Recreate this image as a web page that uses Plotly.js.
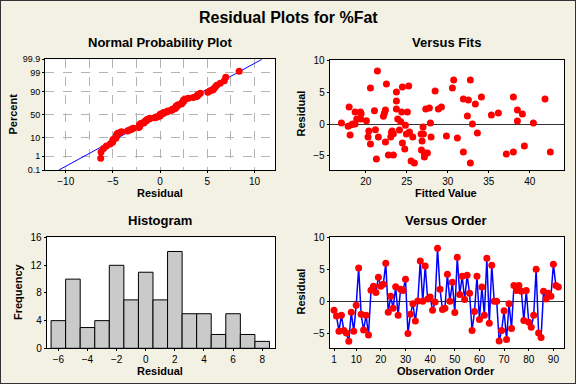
<!DOCTYPE html>
<html>
<head>
<meta charset="utf-8">
<script src="https://cdn.plot.ly/plotly-3.0.1.min.js"></script>
<style>html,body{margin:0;padding:0;background:#f3f0e4;}#chart{width:576px;height:384px;}</style>
</head>
<body>
<div id="chart"></div>
<script>
// Residuals in observation order (read from "Versus Order")
const residuals = [-1.42,-2.3,-4.7,-2.2,-4.6,-5.0,-6.3,-1.7,-4.7,-0.6,
5.26,-2.05,-4.5,-2.2,-5.3,1.74,2.4,1.4,3.8,2.4,
2.7,6.0,-1.7,0.8,-1.1,2.3,-2.2,1.9,1.7,3.5,
-5.05,-2.05,-0.37,-3.1,0.05,6.37,0.0,5.58,0.37,0.7,
-1.42,-0.1,8.37,1.9,-1.3,-1.1,4.26,0.0,3.0,-1.74,
6.95,1.1,3.95,0.3,4.1,1.26,-4.6,-1.58,3.95,-2.84,
2.26,-2.2,6.8,-3.47,5.7,0.0,0.0,-6.26,-4.58,-1.47,
-6.0,-0.37,-4.26,2.5,1.7,2.5,1.58,-3.0,1.7,-3.3,
-4.1,-2.2,5.05,-5.0,-5.7,1.58,0.37,1.26,0.79,5.84,
2.5,2.26];

// Versus Fits
const fittedValues = [17.03,17.85,18.25,17.97,18.09,18.70,18.70,18.90,19.35,19.43,
19.39,20.08,20.37,20.28,20.57,20.57,21.06,21.18,21.30,21.42,
21.54,22.15,22.28,22.40,22.40,22.52,22.76,23.05,23.13,23.21,
23.37,23.37,23.74,23.74,23.74,23.90,24.11,24.27,24.39,24.47,
24.47,24.76,24.84,24.96,25.08,25.24,25.33,25.73,25.53,25.93,
26.75,27.03,26.99,26.87,26.79,27.15,27.15,27.52,27.32,27.76,
27.89,27.97,28.46,28.86,29.23,29.84,30.57,30.73,31.18,31.91,
31.91,32.40,32.52,32.76,32.76,33.01,33.37,33.62,34.11,35.33,
36.18,37.15,38.01,38.01,38.50,38.50,39.11,39.35,40.45,41.87,
42.52,18.41];
const fitResiduals = [0.16,-0.37,-0.1,2.68,-1.74,1.89,0.0,0.79,1.89,1.63,
0.79,0.53,-1.11,-2.05,-3.16,5.68,2.11,-0.89,-5.53,8.37,
-2.05,1.21,1.74,2.21,-2.84,6.32,-4.89,-2.05,-1.32,-1.11,
-4.89,-1.53,5.05,3.63,2.37,0.79,-0.95,0.37,1.89,-3.0,
5.84,-3.95,-0.21,-1.58,1.89,6.0,-1.26,-2.05,-5.84,-6.16,
-1.58,-1.58,-0.47,-2.68,-4.11,-4.58,-5.21,-4.58,2.37,2.53,
0.16,-2.05,5.21,2.37,2.68,-1.89,5.68,6.95,-2.21,3.95,
-4.42,1.26,3.79,6.95,-6.16,0.0,3.16,-1.42,4.26,1.42,
1.74,-4.74,4.26,-4.42,2.21,0.47,1.58,-3.47,0.16,3.95,
-4.42,0.0];

// Histogram
const binCenters = [-6,-5,-4,-3,-2,-1,0,1,2,3,4,5,6,7,8];
const binCounts  = [4,10,3,4,12,7,11,7,14,5,5,2,5,2,1];

// Probability axis labels
const probTicks = [0.1,1,10,50,90,99,99.9];
const probTickText = ['0.1','1','10','50','90','99','99.9'];
const orderTicks = [1,10,20,30,40,50,60,70,80,90];

// inverse normal CDF (Acklam)
function invNorm(p){
  const a=[-3.969683028665376e+01,2.209460984245205e+02,-2.759285104469687e+02,1.383577518672690e+02,-3.066479806614716e+01,2.506628277459239e+00];
  const b=[-5.447609879822406e+01,1.615858368580409e+02,-1.556989798598866e+02,6.680131188771972e+01,-1.328068155288572e+01];
  const c=[-7.784894002430293e-03,-3.223964580411365e-01,-2.400758277161838e+00,-2.549732539343734e+00,4.374664141464968e+00,2.938163982698783e+00];
  const d=[7.784695709041462e-03,3.224671290700398e-01,2.445134137142996e+00,3.754408661907416e+00];
  const pl=0.02425, ph=1-pl; let q,r;
  if(p<pl){q=Math.sqrt(-2*Math.log(p));return (((((c[0]*q+c[1])*q+c[2])*q+c[3])*q+c[4])*q+c[5])/((((d[0]*q+d[1])*q+d[2])*q+d[3])*q+1);}
  if(p<=ph){q=p-0.5;r=q*q;return (((((a[0]*r+a[1])*r+a[2])*r+a[3])*r+a[4])*r+a[5])*q/(((((b[0]*r+b[1])*r+b[2])*r+b[3])*r+b[4])*r+1);}
  q=Math.sqrt(-2*Math.log(1-p));return -(((((c[0]*q+c[1])*q+c[2])*q+c[3])*q+c[4])*q+c[5])/((((d[0]*q+d[1])*q+d[2])*q+d[3])*q+1);
}

const n = residuals.length;
const sorted = residuals.slice().sort((a,b)=>a-b);
const zScores = sorted.map((v,i)=>invNorm((i+1-0.3)/(n+0.4)));
const mean = residuals.reduce((s,v)=>s+v,0)/n;
const sd = Math.sqrt(residuals.reduce((s,v)=>s+(v-mean)*(v-mean),0)/(n-1));
const zLo = invNorm(0.001), zHi = invNorm(0.999);
const obsIndex = residuals.map((v,i)=>i+1);

const RED = '#ff0000', BLUE = '#0000ff';
const FAM = 'Liberation Sans, Arial, sans-serif';
const tickFont = {family:FAM, size:10, color:'#000'};
const titleFont = {family:FAM, size:13, color:'#000', weight:'bold'};
const axFont = {family:FAM, size:11, color:'#000', weight:'bold'};

const traces = [
  {x:[mean+sd*zLo, mean+sd*zHi], y:[zLo,zHi], xaxis:'x', yaxis:'y', mode:'lines', line:{color:BLUE,width:1}, hoverinfo:'skip'},
  {x:sorted, y:zScores, xaxis:'x', yaxis:'y', mode:'markers', marker:{color:RED,size:7}},
  {x:fittedValues, y:fitResiduals, xaxis:'x2', yaxis:'y2', mode:'markers', marker:{color:RED,size:7}},
  {x:binCenters, y:binCounts, xaxis:'x3', yaxis:'y3', type:'bar', width:1,
   marker:{color:'#cacaca', line:{color:'#000',width:1}}},
  {x:obsIndex, y:residuals, xaxis:'x4', yaxis:'y4', mode:'lines+markers', line:{color:BLUE,width:1.5}, marker:{color:RED,size:7}}
];

function ax(extra){
  return Object.assign({showline:true, mirror:true, linecolor:'#000', linewidth:1,
    ticks:'outside', ticklen:2, tickcolor:'#000', tickfont:tickFont, showgrid:false, zeroline:false, fixedrange:true}, extra);
}

const layout = {
  width:576, height:384, margin:{l:0,r:0,t:0,b:0},
  paper_bgcolor:'#f3f0e4', plot_bgcolor:'#ffffff', showlegend:false, bargap:0,
  xaxis: ax({domain:[45/576,275.3/576], range:[-12.2,12.2], tickvals:[-10,-5,0,5,10],
    showgrid:true, gridcolor:'#b4b4b4', griddash:'dash', gridwidth:1,
    minor:{dtick:2.5, tick0:0, showgrid:true, gridcolor:'#b4b4b4', griddash:'dash', gridwidth:1}, anchor:'y'}),
  yaxis: ax({domain:[1-170/384,1-59.3/384], range:[zLo,zHi], tickvals:probTicks.map(p=>invNorm(p/100)), ticktext:probTickText,
    showgrid:true, gridcolor:'#b4b4b4', griddash:'dash', gridwidth:1, tickfont:Object.assign({},tickFont,{size:9}), anchor:'x'}),
  xaxis2: ax({domain:[329.7/576,563.7/576], range:[15.6,44.15], tickvals:[20,25,30,35,40], anchor:'y2'}),
  yaxis2: ax({domain:[1-170.3/384,1-60/384], range:[-7.3,10.1], tickvals:[-5,0,5,10], zeroline:true, zerolinecolor:'#333', zerolinewidth:1, anchor:'x2'}),
  xaxis3: ax({domain:[46.7/576,275.3/576], range:[-6.8,8.9], tickvals:[-6,-4,-2,0,2,4,6,8], anchor:'y3'}),
  yaxis3: ax({domain:[1-348.3/384,1-237.3/384], range:[0,16.05], tickvals:[0,4,8,12,16], anchor:'x3'}),
  xaxis4: ax({domain:[329.7/576,564/576], range:[-0.75,94.3], tickvals:orderTicks, anchor:'y4'}),
  yaxis4: ax({domain:[1-348.3/384,1-237.3/384], range:[-7.4,10.1], tickvals:[-5,0,5,10], zeroline:true, zerolinecolor:'#333', zerolinewidth:1, anchor:'x4'}),
  annotations: [
    {text:'Residual Plots for %Fat', x:288/576, y:1-17/384, font:Object.assign({},titleFont,{size:16})},
    {text:'Normal Probability Plot', x:160/576, y:1-42.5/384, font:titleFont},
    {text:'Versus Fits', x:446/576, y:1-42.5/384, font:titleFont},
    {text:'Histogram', x:160/576, y:1-220/384, font:titleFont},
    {text:'Versus Order', x:446/576, y:1-220/384, font:titleFont},
    {text:'Residual', x:160/576, y:1-193/384, font:axFont},
    {text:'Fitted Value', x:446/576, y:1-193/384, font:axFont},
    {text:'Residual', x:160/576, y:1-371/384, font:axFont},
    {text:'Observation Order', x:446/576, y:1-371/384, font:axFont},
    {text:'Percent', x:12.5/576, y:1-114/384, textangle:-90, font:axFont},
    {text:'Residual', x:300.5/576, y:1-114/384, textangle:-90, font:axFont},
    {text:'Frequency', x:18/576, y:1-292/384, textangle:-90, font:axFont},
    {text:'Residual', x:300.5/576, y:1-292/384, textangle:-90, font:axFont}
  ].map(a=>Object.assign({xref:'paper', yref:'paper', showarrow:false, xanchor:'center', yanchor:'middle'}, a)),
  shapes: [
    {type:'rect', xref:'paper', yref:'paper', x0:0, x1:1, y0:0, y1:1, line:{color:'#333', width:2}, fillcolor:'rgba(0,0,0,0)', layer:'above'}
  ]
};

Plotly.newPlot('chart', traces, layout, {staticPlot:true, displayModeBar:false});
</script>
</body>
</html>
